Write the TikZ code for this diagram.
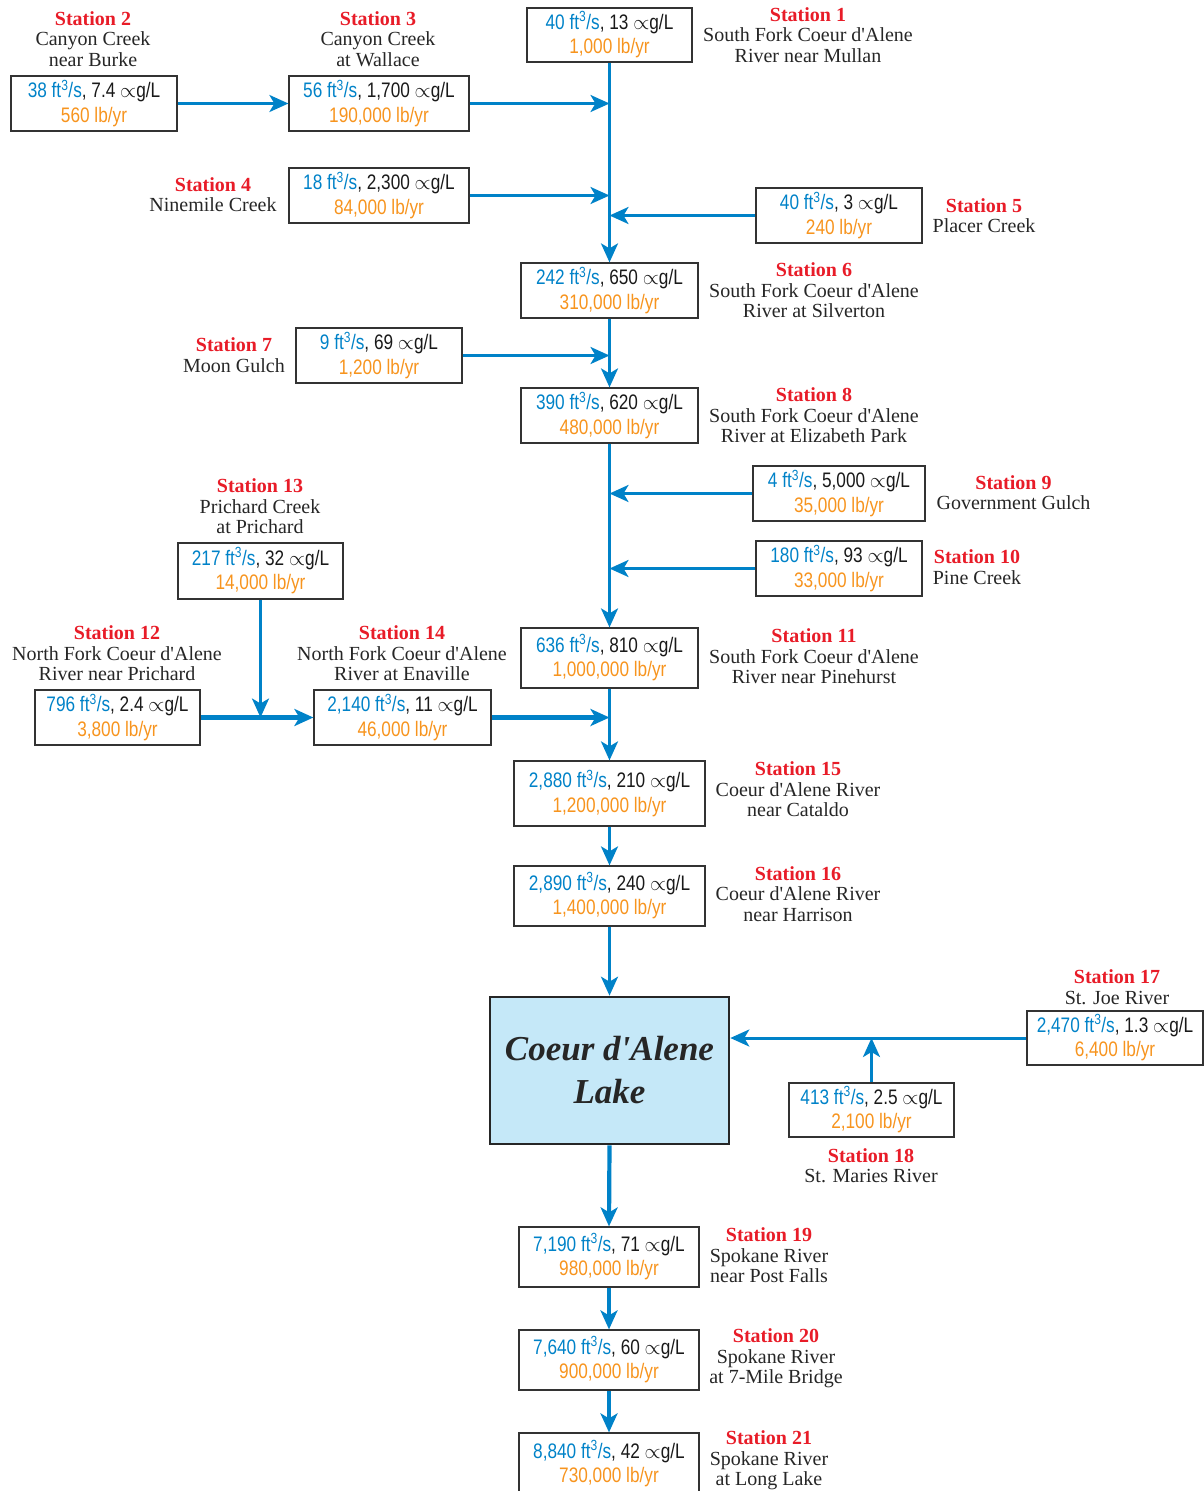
\documentclass[tikz,border=0pt]{standalone}
\usepackage{fontspec}
\setmainfont{Liberation Serif}
\newfontfamily\datafont[FakeStretch=0.82]{Liberation Sans}
\usetikzlibrary{arrows.meta}
\definecolor{rblue}{RGB}{0,130,200}
\definecolor{dorange}{RGB}{247,148,30}
\definecolor{sred}{RGB}{232,28,40}
\definecolor{lakeblue}{RGB}{197,232,248}
\newcommand\st[1]{{\color{sred}\bfseries #1}}
\newcommand\ap{\textquotesingle}
\newcommand\dat[3]{{\color{rblue}#1 ft\textsuperscript{3}/s}, #2 $\propto$g/L\\{\color{dorange}#3 lb/yr}}
\tikzset{
  lab/.style={align=center, inner sep=0pt, text=black!85, font=\fontsize{20}{20.5}\selectfont},
  dbox/.style={draw=black!80, line width=1.2pt, align=center, inner sep=0pt, text=black!90,
    font=\datafont\fontsize{21}{24.5}\selectfont},
  flow/.style={draw=rblue, line width=3pt, -{Stealth[length=19pt,width=17pt,inset=5pt]}},
  thickflow/.style={flow, line width=4.2pt}
}
\begin{document}
\begin{tikzpicture}[x=1pt,y=-1pt]
\useasboundingbox (0,0) rectangle (1204,1491);
% data boxes
\node[dbox, minimum width=165pt, minimum height=54pt] (s1) at (609.5,35) {\dat{40}{13}{1,000}};
\node[dbox, minimum width=166pt, minimum height=55pt] (s2) at (94,103.5) {\dat{38}{7.4}{560}};
\node[dbox, minimum width=180pt, minimum height=55pt] (s3) at (379,103.5) {\dat{56}{1,700}{190,000}};
\node[dbox, minimum width=180pt, minimum height=55pt] (s4) at (379,195.5) {\dat{18}{2,300}{84,000}};
\node[dbox, minimum width=166pt, minimum height=55pt] (s5) at (839,215.5) {\dat{40}{3}{240}};
\node[dbox, minimum width=177pt, minimum height=55pt] (s6) at (609.5,290.5) {\dat{242}{650}{310,000}};
\node[dbox, minimum width=166pt, minimum height=55pt] (s7) at (379,355.5) {\dat{9}{69}{1,200}};
\node[dbox, minimum width=177pt, minimum height=55pt] (s8) at (609.5,415.5) {\dat{390}{620}{480,000}};
\node[dbox, minimum width=172pt, minimum height=55pt] (s9) at (839,493.5) {\dat{4}{5,000}{35,000}};
\node[dbox, minimum width=166pt, minimum height=55pt] (s10) at (839,568.5) {\dat{180}{93}{33,000}};
\node[dbox, minimum width=177pt, minimum height=60pt] (s11) at (609.5,658) {\dat{636}{810}{1,000,000}};
\node[dbox, minimum width=165pt, minimum height=56pt] (s13) at (260.5,571) {\dat{217}{32}{14,000}};
\node[dbox, minimum width=165pt, minimum height=55pt] (s12) at (117.5,717.5) {\dat{796}{2.4}{3,800}};
\node[dbox, minimum width=177pt, minimum height=55pt] (s14) at (402.5,717.5) {\dat{2,140}{11}{46,000}};
\node[dbox, minimum width=191pt, minimum height=65pt] (s15) at (609.5,793.5) {\dat{2,880}{210}{1,200,000}};
\node[dbox, minimum width=191pt, minimum height=60pt] (s16) at (609.5,896) {\dat{2,890}{240}{1,400,000}};
\node[draw=black!85, line width=2.6pt, fill=lakeblue, minimum width=239pt, minimum height=147pt,
  align=center, inner sep=0pt, text=black!85, font=\fontsize{35}{43}\selectfont\bfseries\itshape]
  (lake) at (609.5,1070.5) {Coeur d\ap Alene\\Lake};
\node[dbox, minimum width=176pt, minimum height=54pt] (s17) at (1115,1038) {\dat{2,470}{1.3}{6,400}};
\node[dbox, minimum width=165pt, minimum height=54pt] (s18) at (871.5,1110) {\dat{413}{2.5}{2,100}};
\node[dbox, minimum width=180pt, minimum height=60pt] (s19) at (609,1257) {\dat{7,190}{71}{980,000}};
\node[dbox, minimum width=180pt, minimum height=60pt] (s20) at (609,1360) {\dat{7,640}{60}{900,000}};
\node[dbox, minimum width=180pt, minimum height=62pt] (s21) at (609,1464) {\dat{8,840}{42}{730,000}};
% labels
\node[lab] (l1) at (808,35) {\st{Station 1}\\South Fork Coeur d\ap Alene\\River near Mullan};
\node[lab] (l2) at (93,39) {\st{Station 2}\\Canyon Creek\\near Burke};
\node[lab] (l3) at (378,39) {\st{Station 3}\\Canyon Creek\\at Wallace};
\node[lab] (l4) at (213,194.5) {\st{Station 4}\\Ninemile Creek};
\node[lab] (l5) at (984,215.5) {\st{Station 5}\\Placer Creek};
\node[lab] (l6) at (814,290.5) {\st{Station 6}\\South Fork Coeur d\ap Alene\\River at Silverton};
\node[lab] (l7) at (234,355) {\st{Station 7}\\Moon Gulch};
\node[lab] (l8) at (814,415.5) {\st{Station 8}\\South Fork Coeur d\ap Alene\\River at Elizabeth Park};
\node[lab] (l9) at (1013.5,492.5) {\st{Station 9}\\Government Gulch};
\node[lab] (l10) at (977,567) {\st{Station 10}\\Pine Creek};
\node[lab] (l11) at (814,656.5) {\st{Station 11}\\South Fork Coeur d\ap Alene\\River near Pinehurst};
\node[lab] (l13) at (260,506.5) {\st{Station 13}\\Prichard Creek\\at Prichard};
\node[lab] (l12) at (117,653.5) {\st{Station 12}\\North Fork Coeur d\ap Alene\\River near Prichard};
\node[lab] (l14) at (402,653.5) {\st{Station 14}\\North Fork Coeur d\ap Alene\\River at Enaville};
\node[lab] (l15) at (798,789.5) {\st{Station 15}\\Coeur d\ap Alene River\\near Cataldo};
\node[lab] (l16) at (798,894) {\st{Station 16}\\Coeur d\ap Alene River\\near Harrison};
\node[lab] (l17) at (1117,987) {\st{Station 17}\\St. Joe River};
\node[lab] (l18) at (871,1165.5) {\st{Station 18}\\St. Maries River};
\node[lab] (l19) at (769,1255.5) {\st{Station 19}\\Spokane River\\near Post Falls};
\node[lab] (l20) at (776,1358.5) {\st{Station 20}\\Spokane River\\at 7-Mile Bridge};
\node[lab] (l21) at (769,1460.5) {\st{Station 21}\\Spokane River\\at Long Lake};
% connectors
\draw[flow] (s1.south) -- (s6.north);
\draw[flow] (s2.east) -- (s3.west);
\draw[flow] (s3.east) -- (s3.east -| s1.south);
\draw[flow] (s4.east) -- (s4.east -| s1.south);
\draw[flow] (s5.west) -- (s5.west -| s1.south);
\draw[flow] (s6.south) -- (s8.north);
\draw[flow] (s7.east) -- (s7.east -| s6.south);
\draw[flow] (s8.south) -- (s11.north);
\draw[flow] (s9.west) -- (s9.west -| s8.south);
\draw[flow] (s10.west) -- (s10.west -| s8.south);
\draw[flow] (s13.south) -- (s13.south |- s12.east);
\draw[thickflow] (s12.east) -- (s14.west);
\draw[thickflow] (s14.east) -- (s14.east -| s11.south);
\draw[flow] (s11.south) -- (s15.north);
\draw[flow] (s15.south) -- (s16.north);
\draw[flow] (s16.south) -- (lake.north);
\draw[flow] (s17.west) -- (s17.west -| lake.east);
\draw[flow] (s18.north) -- (s18.north |- s17.west);
\draw[thickflow] (lake.south) -- (s19.north);
\draw[thickflow] (s19.south) -- (s20.north);
\draw[thickflow] (s20.south) -- (s21.north);
\end{tikzpicture}
\end{document}
